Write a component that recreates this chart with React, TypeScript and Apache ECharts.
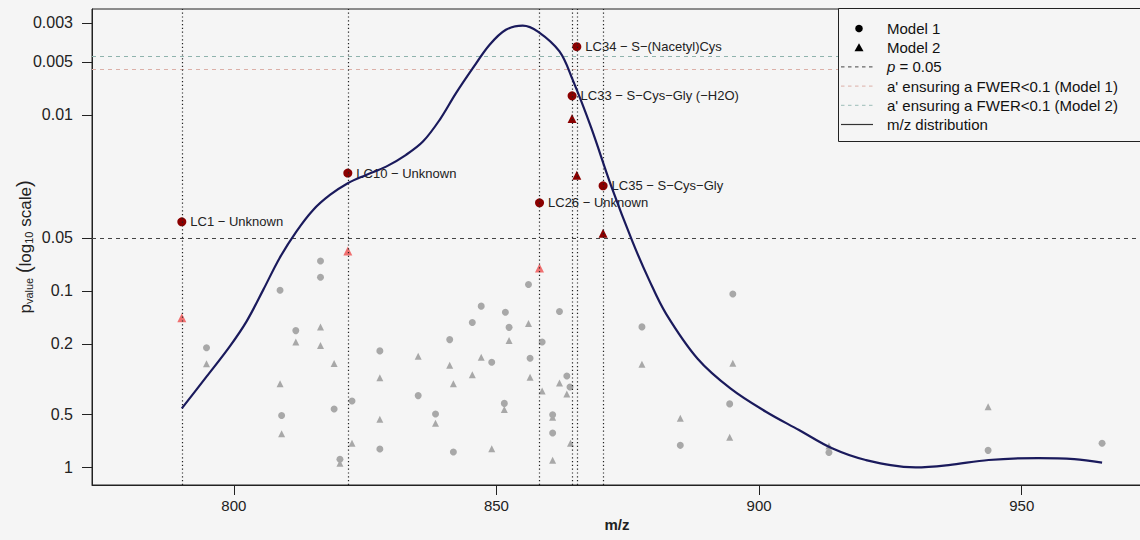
import React, { useEffect, useRef } from "react";
import * as echarts from "echarts";

// ---- Data ----
// Non-significant Model 1 results (grey circles)
const m1Mz = [794.8, 808.8, 809.1, 811.8, 816.5, 816.5, 819.1, 820.2, 822.5, 827.8, 827.8, 835.1, 838.4, 841.1, 841.8, 845.4, 847.1, 849.1, 851.5, 851.7, 852.4, 856.1, 856.4, 858.7, 860.7, 860.7, 862.0, 863.4, 864.0, 877.7, 885.0, 894.4, 895.0, 913.3, 943.6, 965.3];
const m1P = [0.21, 0.099, 0.51, 0.168, 0.0676, 0.0836, 0.468, 0.904, 0.422, 0.219, 0.79, 0.393, 0.5, 0.189, 0.822, 0.151, 0.122, 0.254, 0.435, 0.132, 0.161, 0.092, 0.241, 0.195, 0.505, 0.641, 0.131, 0.304, 0.351, 0.16, 0.753, 0.438, 0.104, 0.826, 0.804, 0.733];
// Non-significant Model 2 results (grey triangles)
const m2Mz = [794.8, 808.8, 809.1, 811.8, 816.5, 816.5, 819.1, 820.2, 822.5, 827.8, 827.8, 835.1, 838.4, 841.1, 841.8, 845.4, 847.1, 849.1, 851.5, 852.4, 856.1, 856.4, 858.7, 860.7, 860.7, 862.0, 863.4, 864.1, 877.7, 885.0, 894.4, 895.0, 913.3, 943.6];
const m2P = [0.259, 0.336, 0.647, 0.195, 0.16, 0.204, 0.258, 0.953, 0.733, 0.311, 0.536, 0.235, 0.565, 0.264, 0.336, 0.299, 0.238, 0.787, 0.472, 0.191, 0.153, 0.309, 0.37, 0.522, 0.916, 0.333, 0.385, 0.733, 0.261, 0.529, 0.678, 0.257, 0.76, 0.454];
// Highlighted compounds
const sigNames = ["LC1 − Unknown", "LC10 − Unknown", "LC26 − Unknown", "LC33 − S−Cys−Gly (−H2O)", "LC34 − S−(Nacetyl)Cys", "LC35 − S−Cys−Gly"];
const sigMz = [790.1, 821.7, 858.2, 864.4, 865.3, 870.3];
const sigP1 = [0.0405, 0.0214, 0.0316, 0.0078, 0.0041, 0.0253];
const sigP2 = [0.142, 0.0593, 0.074, 0.0105, 0.022, 0.047];
// Thresholds
const pThreshold = 0.05;
const fwerModel1 = 0.00548;
const fwerModel2 = 0.00472;
// m/z distribution curve (height in -log10 axis units)
const curveMz = [790.1, 794.8, 799.2, 802.4, 805.6, 808.7, 811.9, 815.1, 818.3, 821.7, 825.2, 829.0, 832.8, 836.0, 839.2, 842.3, 845.5, 848.7, 851.8, 855.0, 857.9, 862.0, 864.5, 868.0, 871.8, 875.9, 879.1, 882.3, 888.3, 894.6, 901.3, 907.6, 913.9, 920.3, 929.8, 936.1, 943.7, 953.2, 960.0, 965.3];
const curveH = [0.333, 0.513, 0.684, 0.826, 1.006, 1.186, 1.337, 1.46, 1.545, 1.612, 1.659, 1.706, 1.773, 1.848, 1.972, 2.123, 2.265, 2.398, 2.483, 2.507, 2.473, 2.36, 2.2, 1.93, 1.6, 1.28, 1.06, 0.87, 0.615, 0.445, 0.314, 0.21, 0.106, 0.04, -0.002, 0.011, 0.04, 0.051, 0.045, 0.025];
// Axis ticks
const xTicks = [800, 850, 900, 950];
const yTickP = [1, 0.5, 0.2, 0.1, 0.05, 0.01, 0.005, 0.003];
const yTickLabels = ["1", "0.5", "0.2", "0.1", "0.05", "0.01", "0.005", "0.003"];

const FONT = "Liberation Sans, Arial, Helvetica, sans-serif";
const nl = (p: number) => -Math.log10(p);

export default function App() {
  const ref = useRef<HTMLDivElement>(null);
  useEffect(() => {
    document.body.style.margin = "0";
    if (!ref.current) return;
    const chart = echarts.init(ref.current, undefined, { renderer: "svg" });
    const yTickVals = yTickP.map(nl);
    const darkRed = "#8b0000";
    const lightRed = "#f07070";
    const grey = "#a8a8a8";

    const legendRowY = (i: number) => 28.5 + 19.2 * i;
    const legendTextX = 887;
    const legendSymX = 859;
    const legendTexts = [
      "Model 1",
      "Model 2",
      "{i|p} = 0.05",
      "a' ensuring a FWER<0.1 (Model 1)",
      "a' ensuring a FWER<0.1 (Model 2)",
      "m/z distribution",
    ];

    const graphic: any[] = [
      {
        type: "rect",
        z: 100,
        shape: { x: 838.5, y: 8.5, width: 330, height: 133 },
        style: { fill: "#f5f5f5", stroke: "#222", lineWidth: 1 },
      },
      {
        type: "circle",
        z: 101,
        shape: { cx: legendSymX, cy: legendRowY(0), r: 3.8 },
        style: { fill: "#000" },
      },
      {
        type: "polygon",
        z: 101,
        shape: {
          points: [
            [legendSymX, legendRowY(1) - 4.5],
            [legendSymX - 4.5, legendRowY(1) + 3.5],
            [legendSymX + 4.5, legendRowY(1) + 3.5],
          ],
        },
        style: { fill: "#000" },
      },
      {
        type: "line",
        z: 101,
        shape: { x1: 841, y1: legendRowY(2), x2: 873, y2: legendRowY(2) },
        style: { stroke: "#444", lineWidth: 1, lineDash: [3.5, 3.5] },
      },
      {
        type: "line",
        z: 101,
        shape: { x1: 841, y1: legendRowY(3), x2: 873, y2: legendRowY(3) },
        style: { stroke: "#dcb0a8", lineWidth: 1, lineDash: [3.5, 3.5] },
      },
      {
        type: "line",
        z: 101,
        shape: { x1: 841, y1: legendRowY(4), x2: 873, y2: legendRowY(4) },
        style: { stroke: "#9dbdb8", lineWidth: 1, lineDash: [3.5, 3.5] },
      },
      {
        type: "line",
        z: 101,
        shape: { x1: 841, y1: legendRowY(5), x2: 873, y2: legendRowY(5) },
        style: { stroke: "#333", lineWidth: 1.2 },
      },
      ...legendTexts.map((t, i) => ({
        type: "text",
        z: 101,
        x: legendTextX,
        y: legendRowY(i),
        style: {
          text: t,
          fill: "#111",
          fontSize: 15,
          fontFamily: FONT,
          verticalAlign: "middle",
          rich: { i: { fontStyle: "italic", fontSize: 15, fontFamily: FONT, fill: "#111" } },
        },
      })),
    ];

    const option: any = {
      animation: false,
      backgroundColor: "#f5f5f5",
      textStyle: { fontFamily: FONT },
      grid: {
        left: 92,
        right: -2,
        top: 9,
        bottom: 55,
        show: true,
        containLabel: false,
        outerBoundsMode: "none",
        borderColor: "#222",
        borderWidth: 1,
        backgroundColor: "transparent",
      },
      xAxis: {
        type: "value",
        min: 773,
        max: 972.9,
        splitLine: { show: false },
        axisLine: { show: true, onZero: false, lineStyle: { color: "#222", width: 1 } },
        axisTick: { show: true, length: 10, customValues: xTicks, lineStyle: { color: "#222" } },
        axisLabel: {
          customValues: xTicks,
          fontSize: 15,
          color: "#222",
          margin: 13,
          fontFamily: FONT,
        },
        name: "m/z",
        nameLocation: "middle",
        nameGap: 32,
        nameMoveOverlap: false,
        nameTextStyle: { fontSize: 15, fontWeight: "bold", color: "#222", fontFamily: FONT },
      },
      yAxis: {
        type: "value",
        min: -0.102,
        max: 2.601,
        splitLine: { show: false },
        axisLine: { show: true, onZero: false, lineStyle: { color: "#222", width: 1 } },
        axisTick: { show: true, length: 10, customValues: yTickVals, lineStyle: { color: "#222" } },
        axisLabel: {
          customValues: yTickVals,
          fontSize: 16,
          color: "#222",
          margin: 19,
          fontFamily: FONT,
          formatter: (v: number) => {
            const i = yTickVals.findIndex((t) => Math.abs(t - v) < 1e-6);
            return i >= 0 ? yTickLabels[i] : "";
          },
        },
        name: "{m|p}{s|value}{m| }{b|(}{m|log}{s|10}{m| scale}{b|)}",
        nameLocation: "middle",
        nameRotate: 90,
        nameGap: 58,
        nameMoveOverlap: false,
        nameTextStyle: {
          color: "#222",
          rich: {
            m: { fontSize: 17, fontFamily: FONT, color: "#222", lineHeight: 22, verticalAlign: "bottom" },
            s: { fontSize: 11, fontFamily: FONT, color: "#222", lineHeight: 16, verticalAlign: "bottom" },
            b: { fontSize: 20, fontFamily: FONT, color: "#222", lineHeight: 24, verticalAlign: "bottom" },
          },
        },
      },
      series: [
        {
          name: "refLines",
          type: "line",
          data: [],
          silent: true,
          markLine: {
            silent: true,
            symbol: "none",
            label: { show: false },
            data: [
              { yAxis: nl(pThreshold), lineStyle: { color: "#444", width: 1.1, type: [4, 4] } },
              { yAxis: nl(fwerModel1), lineStyle: { color: "#dcb0a8", width: 1.1, type: [4, 4] } },
              { yAxis: nl(fwerModel2), lineStyle: { color: "#8fb3ad", width: 1.1, type: [4, 4] } },
              ...sigMz.map((m) => ({ xAxis: m, lineStyle: { color: "#222", width: 1.2, type: [1.2, 2.6] } })),
            ],
          },
        },
        {
          name: "Model 1 (ns)",
          type: "scatter",
          symbol: "circle",
          symbolSize: 7,
          itemStyle: { color: grey, opacity: 1 },
          z: 3,
          data: m1Mz.map((m, i) => [m, nl(m1P[i])]),
        },
        {
          name: "Model 2 (ns)",
          type: "scatter",
          symbol: "triangle",
          symbolSize: 7,
          itemStyle: { color: grey, opacity: 1 },
          z: 3,
          data: m2Mz.map((m, i) => [m, nl(m2P[i])]),
        },
        {
          name: "Model 2 (sig)",
          type: "scatter",
          symbol: "triangle",
          symbolSize: 9,
          z: 4,
          data: sigMz.map((m, i) => ({
            value: [m, nl(sigP2[i])],
            itemStyle: { color: sigP2[i] < pThreshold ? darkRed : lightRed, opacity: 1 },
          })),
        },
        {
          name: "Model 1 (sig)",
          type: "scatter",
          symbol: "circle",
          symbolSize: 9,
          itemStyle: { color: darkRed, opacity: 1 },
          z: 4,
          label: {
            show: true,
            position: "right",
            distance: 4,
            fontSize: 13,
            color: "#222",
            fontFamily: FONT,
            formatter: (p: any) => sigNames[p.dataIndex],
          },
          data: sigMz.map((m, i) => [m, nl(sigP1[i])]),
        },
        {
          name: "m/z distribution",
          type: "line",
          smooth: 0.35,
          showSymbol: false,
          symbol: "none",
          z: 6,
          lineStyle: { color: "#1a1a5c", width: 2.2 },
          data: curveMz.map((m, i) => [m, curveH[i]]),
        },
      ],
      graphic,
    };
    chart.setOption(option);
    return () => chart.dispose();
  }, []);
  return <div ref={ref} style={{ width: 1140, height: 540, background: "#f5f5f5" }} />;
}
